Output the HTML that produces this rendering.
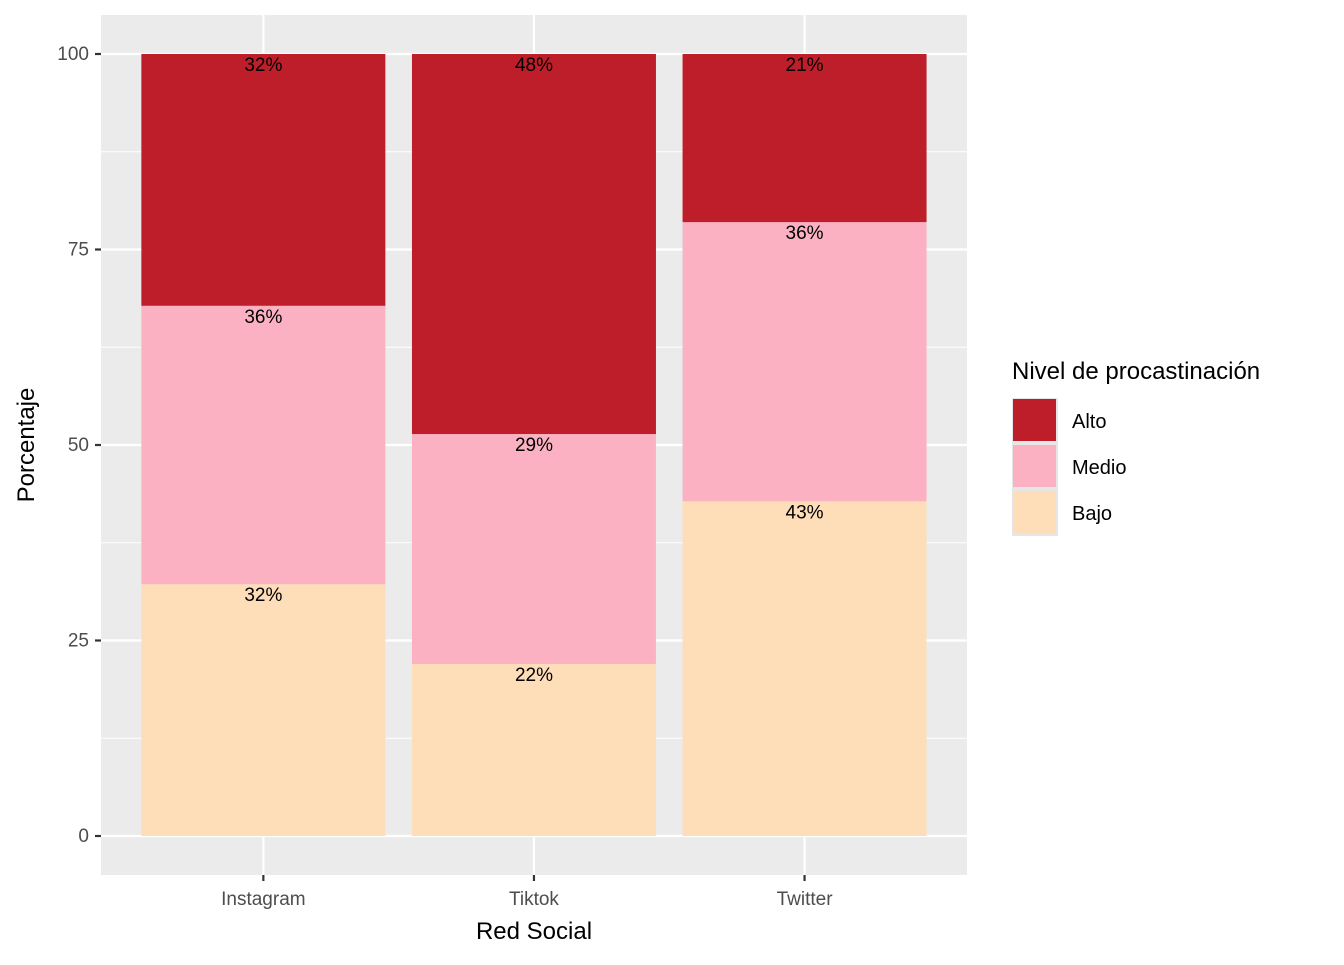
<!DOCTYPE html>
<html><head><meta charset="utf-8"><style>
body{margin:0;background:#fff;font-family:"Liberation Sans",Arial,sans-serif}
</style></head><body>
<svg id="chart" width="1344" height="960" xmlns="http://www.w3.org/2000/svg" font-family="Liberation Sans, Arial, sans-serif">
<rect x="101" y="15" width="866" height="860" fill="#EBEBEB"/>
<g id="grid"></g><g id="bars"></g><g id="labels"></g><g id="axes"></g>
<text x="534" y="939" font-size="24" text-anchor="middle">Red Social</text>
<text transform="translate(34,445) rotate(-90)" font-size="24" text-anchor="middle">Porcentaje</text>
<g>
<text x="1012" y="379" font-size="24">Nivel de procastinación</text>
<rect x="1012" y="398" width="46" height="46" fill="#E6E6E6"/>
<rect x="1013" y="399" width="43" height="42" fill="#BE1E2A"/>
<rect x="1012" y="444" width="46" height="46" fill="#E6E6E6"/>
<rect x="1013" y="445" width="43" height="42" fill="#FCB1C3"/>
<rect x="1012" y="490" width="46" height="46" fill="#E6E6E6"/>
<rect x="1013" y="491" width="43" height="42" fill="#FDDEB9"/>
<text x="1072" y="428" font-size="20">Alto</text>
<text x="1072" y="474" font-size="20">Medio</text>
<text x="1072" y="520" font-size="20">Bajo</text>
</g>
</svg>
<script>
const categories=["Instagram","Tiktok","Twitter"];
const bajo=[32.2,22.0,42.8];
const medio=[35.6,29.4,35.7];
const alto=[32.2,48.6,21.5];
const bajoLabels=["32%","22%","43%"];
const medioLabels=["36%","29%","36%"];
const altoLabels=["32%","48%","21%"];
const yTicks=[0,25,50,75,100];
const NS="http://www.w3.org/2000/svg";
const y=v=>836-v*7.82;
const x=i=>101+(0.6+i)*270.6;
const bw=244;
function mk(tag,attrs,parent,text){const e=document.createElementNS(NS,tag);for(const k in attrs)e.setAttribute(k,attrs[k]);if(text!==undefined)e.textContent=text;document.getElementById(parent).appendChild(e);return e;}
for(let i=0;i<yTicks.length-1;i++){const m=(yTicks[i]+yTicks[i+1])/2;const g=mk('line',{x1:101,x2:967,y1:y(m),y2:y(m),stroke:'#fff','stroke-width':1.1},'grid');

}
yTicks.forEach(t=>{const g=mk('line',{x1:101,x2:967,y1:y(t),y2:y(t),stroke:'#fff','stroke-width':2.2},'grid');


const tk=mk('line',{x1:95,x2:101,y1:y(t),y2:y(t),stroke:'#333','stroke-width':2.2},'axes');


const tl=mk('text',{x:89,y:y(t)+6,'font-size':19,'text-anchor':'end',fill:'#4D4D4D'},'axes',String(t));

});
categories.forEach((c,i)=>{const g=mk('line',{x1:x(i),x2:x(i),y1:15,y2:875,stroke:'#fff','stroke-width':2.2},'grid');


const tk=mk('line',{x1:x(i),x2:x(i),y1:875,y2:881,stroke:'#333','stroke-width':2.2},'axes');


const tl=mk('text',{x:x(i),y:905,'font-size':19,'text-anchor':'middle',fill:'#4D4D4D'},'axes',c);


const segs=[[bajo[i],'#FDDEB9',bajoLabels[i],'bajo'],[medio[i],'#FCB1C3',medioLabels[i],'medio'],[alto[i],'#BE1E2A',altoLabels[i],'alto']];
let base=0;
segs.forEach(s=>{const top=base+s[0];
const r=mk('rect',{x:x(i)-bw/2,y:y(top),width:bw,height:y(base)-y(top),fill:s[1]},'bars');


const l=mk('text',{x:x(i),y:y(top)+17,'font-size':19,'text-anchor':'middle',fill:'#000'},'labels',s[2]);


base=top;});});
</script>
</body></html>
